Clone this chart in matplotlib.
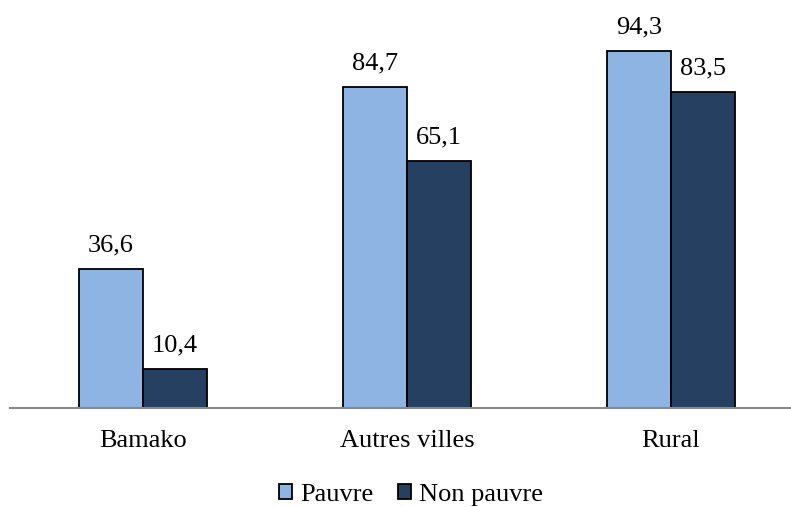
import matplotlib
matplotlib.use("Agg")
import matplotlib.pyplot as plt
import numpy as np

categories = ["Bamako", "Autres villes", "Rural"]
pauvre = [36.6, 84.7, 94.3]
non_pauvre = [10.4, 65.1, 83.5]
series_names = ["Pauvre", "Non pauvre"]

plt.rcParams["font.family"] = ["Liberation Serif", "DejaVu Serif"]
FS = 19

fig = plt.figure(figsize=(7.91, 5.07), dpi=100)
ax = fig.add_axes([10 / 791, 99 / 507, 1 - 10 / 791, 408 / 507])

x = np.arange(len(categories))
w = 64 / 264
light = "#8EB4E3"
dark = "#254061"

b1 = ax.bar(x - w / 2, pauvre, w, color=light, edgecolor="black", linewidth=1.3,
            label=series_names[0])
b2 = ax.bar(x + w / 2, non_pauvre, w, color=dark, edgecolor="black", linewidth=1.3,
            label=series_names[1])

for bars, vals in ((b1, pauvre), (b2, non_pauvre)):
    for rect, v in zip(bars, vals):
        ax.annotate(f"{v:.1f}".replace(".", ","),
                    (rect.get_x() + rect.get_width() / 2, v),
                    xytext=(0, 9), textcoords="offset points",
                    ha="center", va="bottom", fontsize=FS)

ax.set_xlim(-133 / 264, (791 - 143) / 264)
ax.set_ylim(0, 408 / 3.79)

for s in ("top", "right", "left"):
    ax.spines[s].set_visible(False)
ax.spines["bottom"].set_color("#898989")
ax.spines["bottom"].set_linewidth(1.5)
ax.set_yticks([])
ax.set_xticks(x)
ax.set_xticklabels(categories, fontsize=FS)
ax.tick_params(axis="x", length=0, pad=16)

fig.legend(handles=[b1, b2], loc="center", bbox_to_anchor=(411 / 791, 1 - 495 / 507),
           ncol=2, frameon=False, fontsize=FS, handlelength=0.5, handleheight=0.5,
           handletextpad=0.3, columnspacing=0.95)

fig.savefig("out.png", dpi=100)
